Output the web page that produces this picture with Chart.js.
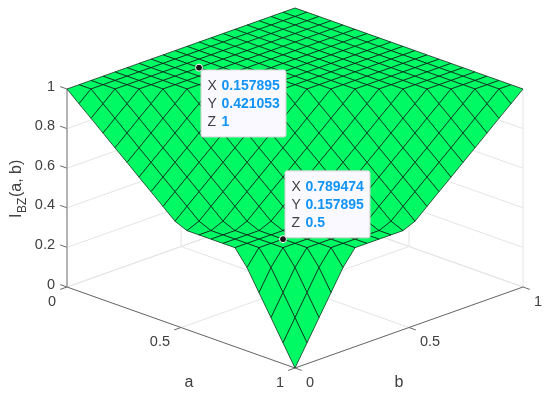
<!DOCTYPE html>
<html>
<head>
<meta charset="utf-8">
<style>
  html, body { margin: 0; padding: 0; background: #fff; }
  canvas { display: block; }
</style>
<script src="https://cdn.jsdelivr.net/npm/chart.js@4"></script>
</head>
<body>
<canvas id="surfaceChart" width="550" height="395"></canvas>
<script>
// Grid of the surface, a runs along the rows and b along the columns
const gridA = [0, .0526, .1053, .1579, .2105, .2632, .3158, .3684, .4211, .4737, .5263, .5789, .6316, .6842, .7368, .7895, .8421, .8947, .9474, 1];
const gridB = [0, .0526, .1053, .1579, .2105, .2632, .3158, .3684, .4211, .4737, .5263, .5789, .6316, .6842, .7368, .7895, .8421, .8947, .9474, 1];

// Heights
const surfaceZ = [
  [1, 1, 1, 1, 1, 1, 1, 1, 1, 1, 1, 1, 1, 1, 1, 1, 1, 1, 1, 1],
  [.947, 1, 1, 1, 1, 1, 1, 1, 1, 1, 1, 1, 1, 1, 1, 1, 1, 1, 1, 1],
  [.895, .947, 1, 1, 1, 1, 1, 1, 1, 1, 1, 1, 1, 1, 1, 1, 1, 1, 1, 1],
  [.842, .895, .947, 1, 1, 1, 1, 1, 1, 1, 1, 1, 1, 1, 1, 1, 1, 1, 1, 1],
  [.789, .842, .895, .947, 1, 1, 1, 1, 1, 1, 1, 1, 1, 1, 1, 1, 1, 1, 1, 1],
  [.737, .789, .842, .895, .947, 1, 1, 1, 1, 1, 1, 1, 1, 1, 1, 1, 1, 1, 1, 1],
  [.684, .737, .789, .842, .895, .947, 1, 1, 1, 1, 1, 1, 1, 1, 1, 1, 1, 1, 1, 1],
  [.632, .684, .737, .789, .842, .895, .947, 1, 1, 1, 1, 1, 1, 1, 1, 1, 1, 1, 1, 1],
  [.579, .632, .684, .737, .789, .842, .895, .947, 1, 1, 1, 1, 1, 1, 1, 1, 1, 1, 1, 1],
  [.526, .579, .632, .684, .737, .789, .842, .895, .947, 1, 1, 1, 1, 1, 1, 1, 1, 1, 1, 1],
  [.5, .526, .579, .632, .684, .737, .789, .842, .895, .947, 1, 1, 1, 1, 1, 1, 1, 1, 1, 1],
  [.5, .5, .526, .579, .632, .684, .737, .789, .842, .895, .947, 1, 1, 1, 1, 1, 1, 1, 1, 1],
  [.5, .5, .5, .526, .579, .632, .684, .737, .789, .842, .895, .947, 1, 1, 1, 1, 1, 1, 1, 1],
  [.5, .5, .5, .5, .526, .579, .632, .684, .737, .789, .842, .895, .947, 1, 1, 1, 1, 1, 1, 1],
  [.5, .5, .5, .5, .5, .526, .579, .632, .684, .737, .789, .842, .895, .947, 1, 1, 1, 1, 1, 1],
  [.421, .5, .5, .5, .5, .5, .526, .579, .632, .684, .737, .789, .842, .895, .947, 1, 1, 1, 1, 1],
  [.316, .421, .5, .5, .5, .5, .5, .526, .579, .632, .684, .737, .789, .842, .895, .947, 1, 1, 1, 1],
  [.211, .316, .421, .5, .5, .5, .5, .5, .526, .579, .632, .684, .737, .789, .842, .895, .947, 1, 1, 1],
  [.105, .211, .316, .421, .5, .5, .5, .5, .5, .526, .579, .632, .684, .737, .789, .842, .895, .947, 1, 1],
  [0, .105, .211, .316, .421, .5, .5, .5, .5, .5, .526, .579, .632, .684, .737, .789, .842, .895, .947, 1]
];

const aTicks = [0, 0.5, 1];
const bTicks = [0, 0.5, 1];
const zTicks = [0, 0.2, 0.4, 0.6, 0.8, 1];

// Data tips
const tipA = [0.157895, 0.789474];
const tipB = [0.421053, 0.157895];
const tipZ = [1, 0.5];

const TILT = 81 / 198;   // how far a-b moves the picture compared to z
const TICK = 0.03;
const FONT = '"Liberation Sans", Arial, sans-serif';

// 3D to the flat plane of the chart, the x and y scales do the rest
function project(a, b, z) {
  return { x: a + b, y: z - TILT * (a - b) };
}

function edge(points, color, width) {
  return {
    data: points.map(p => project(p[0], p[1], p[2])),
    showLine: true,
    borderColor: color,
    borderWidth: width,
    pointRadius: 0,
    fill: false,
    clip: false
  };
}

let datasets = [];

// Data tip markers go on top, chart.js draws the first dataset last
datasets.push({
  data: tipA.map((a, i) => project(a, tipB[i], tipZ[i])),
  showLine: false,
  pointRadius: 3.5,
  pointBackgroundColor: '#151515',
  pointBorderColor: '#ffffff',
  pointBorderWidth: 1,
  clip: false
});

// Surface cells, front ones first
for (let i = gridA.length - 2; i >= 0; i--) {
  for (let j = 0; j < gridB.length - 1; j++) {
    let cell = [
      [gridA[i], gridB[j], surfaceZ[i][j]],
      [gridA[i + 1], gridB[j], surfaceZ[i + 1][j]],
      [gridA[i + 1], gridB[j + 1], surfaceZ[i + 1][j + 1]],
      [gridA[i], gridB[j + 1], surfaceZ[i][j + 1]],
      [gridA[i], gridB[j], surfaceZ[i][j]]
    ];
    let ds = edge(cell, 'rgba(10, 30, 20, 0.9)', 0.8);
    ds.fill = 'shape';
    ds.backgroundColor = '#00fa64';
    datasets.push(ds);
  }
}

// Axis lines and ticks
const AXIS = '#6a6a6a';
datasets.push(edge([[0, 0, 0], [1, 0, 0]], AXIS, 1));
datasets.push(edge([[1, 0, 0], [1, 1, 0]], AXIS, 1));
datasets.push(edge([[0, 0, 0], [0, 0, 1]], '#9a9a9a', 1.4));
aTicks.forEach(t => datasets.push(edge([[t, 0, 0], [t, -TICK, 0]], AXIS, 1)));
bTicks.forEach(t => datasets.push(edge([[1, t, 0], [1 + TICK, t, 0]], AXIS, 1)));
zTicks.forEach(t => datasets.push(edge([[0, 0, t], [-TICK, 0, t]], AXIS, 1)));

// Grid on the floor and the two back walls
const GRID = '#e4e4e4';
aTicks.forEach(t => {
  datasets.push(edge([[t, 0, 0], [t, 1, 0]], GRID, 1));
  datasets.push(edge([[t, 1, 0], [t, 1, 1]], GRID, 1));
});
bTicks.forEach(t => {
  datasets.push(edge([[0, t, 0], [1, t, 0]], GRID, 1));
  datasets.push(edge([[0, t, 0], [0, t, 1]], GRID, 1));
});
zTicks.forEach(t => {
  datasets.push(edge([[0, 0, t], [0, 1, t]], GRID, 1));
  datasets.push(edge([[0, 1, t], [1, 1, t]], GRID, 1));
});

// Tick labels, axis labels and data tips, all placed from the scales
const labelPlugin = {
  id: 'labels',
  afterDraw(chart) {
    const ctx = chart.ctx;
    const sx = chart.scales.x, sy = chart.scales.y;
    const px = (a, b, z) => {
      let p = project(a, b, z);
      return [sx.getPixelForValue(p.x), sy.getPixelForValue(p.y)];
    };

    ctx.save();
    ctx.fillStyle = '#404040';
    ctx.font = '14.5px ' + FONT;
    ctx.textBaseline = 'middle';

    ctx.textAlign = 'right';
    zTicks.forEach(t => {
      let p = px(0, 0, t);
      ctx.fillText(String(t), p[0] - 12, p[1] - 2.5);
    });
    aTicks.forEach(t => {
      let p = px(t, 0, 0);
      ctx.fillText(String(t), p[0] - 11, p[1] + 14.5);
    });
    ctx.textAlign = 'left';
    bTicks.forEach(t => {
      let p = px(1, t, 0);
      ctx.fillText(String(t), p[0] + 11, p[1] + 14.5);
    });

    ctx.textAlign = 'center';
    ctx.font = '16px ' + FONT;
    let pa = px(0.5, 0, 0);
    ctx.fillText('a', pa[0] + 8, 383);
    let pb = px(1, 0.5, 0);
    ctx.fillText('b', pb[0] - 10, 383);

    // I_BZ(a, b), rotated
    ctx.save();
    ctx.translate(21, 218);
    ctx.rotate(-Math.PI / 2);
    ctx.textAlign = 'left';
    ctx.textBaseline = 'alphabetic';
    ctx.font = '16px ' + FONT;
    ctx.fillText('I', 0, 0);
    ctx.font = '12px ' + FONT;
    ctx.fillText('BZ', 5, 5);
    ctx.font = '16px ' + FONT;
    ctx.fillText('(a, b)', 21, 0);
    ctx.restore();

    // Data tip boxes, the first one hangs below its marker and the second sits above
    tipA.forEach((a, i) => {
      let p = px(a, tipB[i], tipZ[i]);
      let left = p[0] + 2;
      let top = i == 0 ? p[1] + 2.3 : p[1] - 68.3;
      ctx.beginPath();
      ctx.roundRect(left, top, 85, 67, 2);
      ctx.fillStyle = '#f9f9ff';
      ctx.fill();
      ctx.strokeStyle = '#d4d4d4';
      ctx.lineWidth = 1;
      ctx.stroke();

      let rows = [['X', tipA[i]], ['Y', tipB[i]], ['Z', tipZ[i]]];
      rows.forEach((row, k) => {
        let y = top + 16 + k * 18;
        ctx.textAlign = 'left';
        ctx.textBaseline = 'middle';
        ctx.fillStyle = '#404040';
        ctx.font = '14px ' + FONT;
        ctx.fillText(row[0], left + 6.5, y);
        ctx.fillStyle = '#1294f6';
        ctx.font = 'bold 14px ' + FONT;
        ctx.fillText(String(row[1]), left + 20.5, y);
      });
    });
    ctx.restore();
  }
};

const surfaceChart = new Chart(document.getElementById('surfaceChart'), {
  type: 'scatter',
  data: { datasets: datasets },
  plugins: [labelPlugin],
  options: {
    responsive: false,
    animation: false,
    layout: { padding: { left: 67, right: 27, top: 8, bottom: 27 } },
    plugins: { legend: { display: false }, tooltip: { enabled: false } },
    scales: {
      x: { type: 'linear', display: false, min: 0, max: 2 },
      y: { type: 'linear', display: false, min: -TILT, max: 1 + TILT }
    }
  }
});
</script>
</body>
</html>
